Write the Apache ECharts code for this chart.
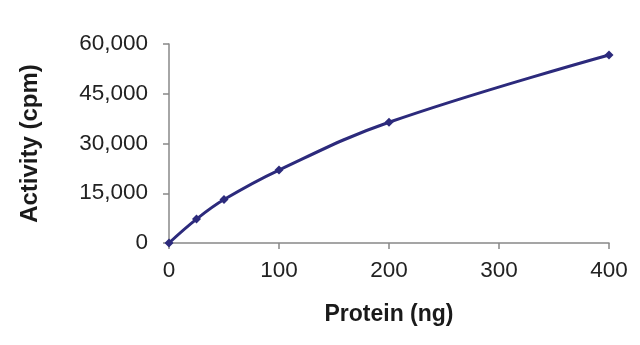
<!DOCTYPE html>
<html><head><meta charset="utf-8">
<script src="https://cdn.jsdelivr.net/npm/echarts@6/dist/echarts.min.js"></script>
<style>html,body{margin:0;padding:0;background:#fff}#c{width:640px;height:345px}</style>
</head><body><div id="c"></div>
<script>
const protein = [0, 25, 50, 100, 200, 400];
const activity = [0, 7200, 13100, 22000, 36400, 56700];
const xTicks = [0, 100, 200, 300, 400];
const yTicks = [0, 15000, 30000, 45000, 60000];

const chart = echarts.init(document.getElementById('c'), null, {renderer: 'canvas'});
const font = 'Liberation Sans, Arial, sans-serif';
chart.setOption({
  animation: false,
  grid: {left: 169, right: 31, top: 44, bottom: 102},
  xAxis: {
    type: 'value', min: xTicks[0], max: xTicks[xTicks.length - 1], interval: 100,
    name: 'Protein (ng)', nameLocation: 'middle', nameGap: 60,
    nameTextStyle: {fontFamily: font, fontWeight: 'bold', fontSize: 23, color: '#1a1a1a'},
    axisLine: {show: true, lineStyle: {color: '#888', width: 1.5}},
    axisTick: {show: true, length: 6, lineStyle: {color: '#888', width: 1.5}},
    axisLabel: {fontFamily: font, fontSize: 22.5, color: '#222', margin: 16},
    splitLine: {show: false}
  },
  yAxis: {
    type: 'value', min: yTicks[0], max: yTicks[yTicks.length - 1], interval: 15000,
    name: 'Activity (cpm)', nameLocation: 'middle', nameGap: 127, nameRotate: 90,
    nameTextStyle: {fontFamily: font, fontWeight: 'bold', fontSize: 24, color: '#1a1a1a'},
    axisLine: {show: true, lineStyle: {color: '#888', width: 1.5}},
    axisTick: {show: true, length: 6, lineStyle: {color: '#888', width: 1.5}},
    axisLabel: {fontFamily: font, fontSize: 22.5, color: '#222', margin: 21,
      formatter: v => v.toLocaleString('en-US')},
    splitLine: {show: false}
  },
  series: [{
    type: 'line',
    data: protein.map((p, i) => [p, activity[i]]),
    smooth: 0.4,
    symbol: 'diamond', symbolSize: 9,
    lineStyle: {color: '#2c2a7c', width: 3},
    itemStyle: {color: '#2c2a7c'}
  }]
});
</script></body></html>
